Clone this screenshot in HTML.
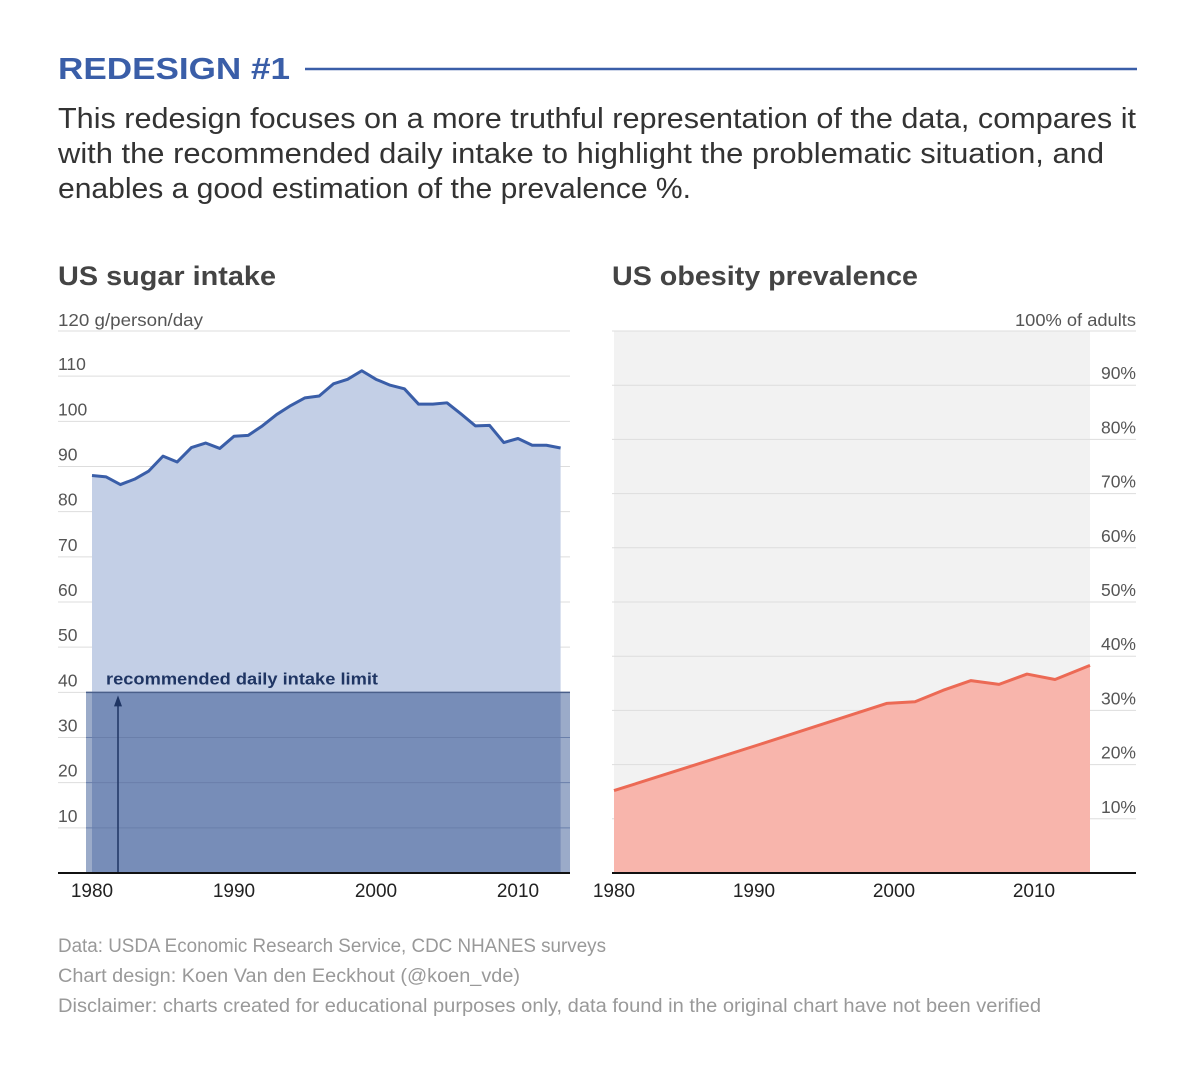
<!DOCTYPE html>
<html><head><meta charset="utf-8"><style>
body{margin:0;background:#fff;font-family:"Liberation Sans",sans-serif;}
svg text{font-family:"Liberation Sans",sans-serif;}
</style></head><body>
<svg width="1200" height="1063" viewBox="0 0 1200 1063" xmlns="http://www.w3.org/2000/svg">
<text x="58" y="79" font-size="31" font-weight="bold" fill="#3a5ea8" textLength="232" lengthAdjust="spacingAndGlyphs">REDESIGN #1</text>
<line x1="305" y1="69" x2="1137" y2="69" stroke="#3a5ea8" stroke-width="2.5"/>
<g font-size="28.5" fill="#333">
<text x="58" y="128" textLength="1078" lengthAdjust="spacingAndGlyphs">This redesign focuses on a more truthful representation of the data, compares it</text>
<text x="58" y="163" textLength="1046" lengthAdjust="spacingAndGlyphs">with the recommended daily intake to highlight the problematic situation, and</text>
<text x="58" y="198" textLength="633" lengthAdjust="spacingAndGlyphs">enables a good estimation of the prevalence %.</text>
</g>
<text x="58" y="285" font-size="27" font-weight="bold" fill="#444" textLength="218" lengthAdjust="spacingAndGlyphs">US sugar intake</text>
<text x="612" y="285" font-size="27" font-weight="bold" fill="#444" textLength="306" lengthAdjust="spacingAndGlyphs">US obesity prevalence</text>
<g id="left"></g>
<g id="right"></g>
<g font-size="19" fill="#999">
<text x="58" y="952" textLength="548" lengthAdjust="spacingAndGlyphs">Data: USDA Economic Research Service, CDC NHANES surveys</text>
<text x="58" y="982" textLength="462" lengthAdjust="spacingAndGlyphs">Chart design: Koen Van den Eeckhout (@koen_vde)</text>
<text x="58" y="1012" textLength="983" lengthAdjust="spacingAndGlyphs">Disclaimer: charts created for educational purposes only, data found in the original chart have not been verified</text>
</g>
</svg>
<script>
const sugarYears=[1980,1981,1982,1983,1984,1985,1986,1987,1988,1989,1990,1991,1992,1993,1994,1995,1996,1997,1998,1999,2000,2001,2002,2003,2004,2005,2006,2007,2008,2009,2010,2011,2012,2013];
const sugarValues=[88,87.7,86,87.2,89,92.3,91,94.2,95.2,94,96.7,96.9,99,101.5,103.5,105.2,105.6,108.3,109.3,111.2,109.3,108,107.2,103.8,103.8,104.1,101.6,99,99.1,95.3,96.2,94.7,94.7,94.1];
const sugarTicks=[10,20,30,40,50,60,70,80,90,100,110];
const recommendedLimit=40;
const obesityYears=[1980,1990.5,1999.5,2001.5,2003.5,2005.5,2007.5,2009.5,2011.5,2014];
const obesityValues=[15.2,23.8,31.3,31.6,33.7,35.5,34.8,36.7,35.7,38.3];
const obesityTicks=[10,20,30,40,50,60,70,80,90];
const xTicks=[1980,1990,2000,2010];

const NS="http://www.w3.org/2000/svg";
function mk(parent,tag,attrs,txt){const e=document.createElementNS(NS,tag);for(const k in attrs)e.setAttribute(k,attrs[k]);if(txt!==undefined)e.textContent=txt;parent.appendChild(e);return e;}
const y0=873,yTop=331;
const L=document.getElementById('left');
const lx=yr=>92+(yr-1980)*14.2;
const ly=v=>y0-v*(y0-yTop)/120;
let e;
for(const t of sugarTicks){
  e=mk(L,'line',{x1:58,x2:570,y1:ly(t),y2:ly(t),stroke:'#ddd','stroke-width':1});
  
  e=mk(L,'text',{x:58,y:ly(t)-6,'font-size':17.5,fill:'#555'},String(t));
  
}
e=mk(L,'line',{x1:58,x2:570,y1:yTop,y2:yTop,stroke:'#ddd'});

e=mk(L,'text',{x:58,y:yTop-5,'font-size':17.5,fill:'#555',textLength:145,lengthAdjust:'spacingAndGlyphs'},'120 g/person/day');

let d='M'+lx(sugarYears[0])+','+y0;
sugarYears.forEach((yr,i)=>d+=' L'+lx(yr)+','+ly(sugarValues[i]));
d+=' L'+lx(sugarYears[sugarYears.length-1])+','+y0+'Z';
e=mk(L,'path',{d:d,fill:'#c3cfe6'});

e=mk(L,'rect',{x:86,y:ly(recommendedLimit),width:484,height:y0-ly(recommendedLimit),fill:'#9babc9'});

e=mk(L,'rect',{x:lx(1980),y:ly(recommendedLimit),width:lx(2013)-lx(1980),height:y0-ly(recommendedLimit),fill:'#778db8'});

for(const t of sugarTicks.filter(t=>t<recommendedLimit)){
  e=mk(L,'line',{x1:86,x2:570,y1:ly(t),y2:ly(t),stroke:'#6a7faa','stroke-width':1});
  
}
e=mk(L,'line',{x1:86,x2:570,y1:ly(recommendedLimit),y2:ly(recommendedLimit),stroke:'#4a5f8a','stroke-width':1.5});

let pts=sugarYears.map((yr,i)=>lx(yr)+','+ly(sugarValues[i])).join(' ');
e=mk(L,'polyline',{points:pts,fill:'none',stroke:'#3a5ea8','stroke-width':3,'stroke-linejoin':'round'});

e=mk(L,'line',{x1:118,x2:118,y1:y0,y2:ly(recommendedLimit)+8,stroke:'#1f3563','stroke-width':1.5});

e=mk(L,'path',{d:'M114,'+(ly(recommendedLimit)+14)+' L118,'+(ly(recommendedLimit)+3)+' L122,'+(ly(recommendedLimit)+14)+'Z',fill:'#1f3563'});

e=mk(L,'text',{x:106,y:ly(recommendedLimit)-8,'font-size':17,'font-weight':'bold',fill:'#1f3563',textLength:272,lengthAdjust:'spacingAndGlyphs'},'recommended daily intake limit');

e=mk(L,'line',{x1:58,x2:570,y1:y0,y2:y0,stroke:'#111','stroke-width':2});

for(const t of xTicks){
  e=mk(L,'text',{x:lx(t),y:897,'font-size':19,fill:'#222','text-anchor':'middle'},String(t));
  
}
const R=document.getElementById('right');
const rx=yr=>614+(yr-1980)*14;
const ry=v=>y0-v*(y0-yTop)/100;
e=mk(R,'rect',{x:614,y:yTop,width:rx(2014)-614,height:y0-yTop,fill:'#f2f2f2'});

for(const t of obesityTicks.concat([100])){
  e=mk(R,'line',{x1:612,x2:1136,y1:ry(t),y2:ry(t),stroke:'#ddd'});
  
}
for(const t of obesityTicks){
  e=mk(R,'text',{x:1136,y:ry(t)-6,'font-size':17.5,fill:'#555','text-anchor':'end'},t+'%');
  
}
e=mk(R,'text',{x:1136,y:yTop-5,'font-size':17.5,fill:'#555','text-anchor':'end',textLength:121,lengthAdjust:'spacingAndGlyphs'},'100% of adults');

d='M'+rx(obesityYears[0])+','+y0;
obesityYears.forEach((yr,i)=>d+=' L'+rx(yr)+','+ry(obesityValues[i]));
d+=' L'+rx(obesityYears[obesityYears.length-1])+','+y0+'Z';
e=mk(R,'path',{d:d,fill:'#f8b5ac'});

pts=obesityYears.map((yr,i)=>rx(yr)+','+ry(obesityValues[i])).join(' ');
e=mk(R,'polyline',{points:pts,fill:'none',stroke:'#ec6a55','stroke-width':3,'stroke-linejoin':'round'});

e=mk(R,'line',{x1:612,x2:1136,y1:y0,y2:y0,stroke:'#111','stroke-width':2});

for(const t of xTicks){
  e=mk(R,'text',{x:rx(t),y:897,'font-size':19,fill:'#222','text-anchor':'middle'},String(t));
  
}
</script>
</body></html>
